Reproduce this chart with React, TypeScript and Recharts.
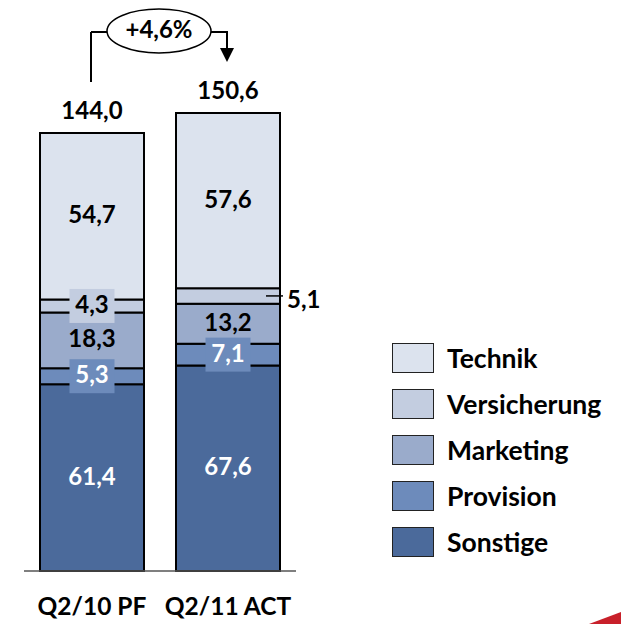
import { BarChart, Bar, XAxis, YAxis, LabelList, Legend } from "recharts";

const categories = ["Q2/10 PF", "Q2/11 ACT"];
const sonstige = [61.4, 67.6];
const provision = [5.3, 7.1];
const marketing = [18.3, 13.2];
const versicherung = [4.3, 5.1];
const technik = [54.7, 57.6];

const FONT = "Lato, 'Open Sans', sans-serif";
const WEIGHT = 700;

// stack order: bottom to top
const series = [
  { key: "sonstige", name: "Sonstige", values: sonstige, fill: "#4b6a9b", text: "#fff", boxed: false },
  { key: "provision", name: "Provision", values: provision, fill: "#6d8bbb", text: "#fff", boxed: true },
  { key: "marketing", name: "Marketing", values: marketing, fill: "#9aabcb", text: "#000", boxed: false },
  { key: "versicherung", name: "Versicherung", values: versicherung, fill: "#c3cde0", text: "#000", boxed: true },
  { key: "technik", name: "Technik", values: technik, fill: "#dce3ee", text: "#000", boxed: false },
];

const data = categories.map((cat, i) => {
  const row: Record<string, any> = { cat };
  series.forEach((s) => (row[s.key] = s.values[i]));
  row.total = series.reduce((sum, s) => sum + s.values[i], 0);
  return row;
});

const fmt = (v: number) => v.toFixed(1).replace(".", ",");
const growth = (data[1].total / data[0].total - 1) * 100;

let firstTopX = 0;

function segmentLabel(s: (typeof series)[number]) {
  return (props: any) => {
    const x = Number(props.x), y = Number(props.y), w = Number(props.width), h = Number(props.height);
    const txt = fmt(Number(props.value));
    const cx = x + w / 2;
    const cy = y + h / 2;
    if (s.key === "versicherung" && props.index === 1) {
      return (
        <g>
          <line x1={cx + 38} x2={x + w + 3} y1={cy} y2={cy} stroke="#000" strokeWidth={1.5} />
          <text x={x + w + 7} y={cy + 6} fontFamily={FONT} fontWeight={WEIGHT} fontSize={24} dominantBaseline="middle" fill="#000">
            {txt}
          </text>
        </g>
      );
    }
    const bw = txt.length * 11 + 12;
    return (
      <g>
        {s.boxed && <rect x={cx - bw / 2} y={cy - 17} width={bw} height={34} fill={s.fill} />}
        <text x={cx} y={cy + 1} textAnchor="middle" dominantBaseline="middle" fontFamily={FONT} fontWeight={WEIGHT} fontSize={24} fill={s.text}>
          {txt}
        </text>
      </g>
    );
  };
}

function topLabel(props: any) {
  const x = Number(props.x), y = Number(props.y), w = Number(props.width);
  const cx = x + w / 2;
  const total = data[props.index].total;
  const bracketY = 32;
  if (props.index === 0) firstTopX = cx;
  const label = (
    <text x={cx} y={y - 14} textAnchor="middle" fontFamily={FONT} fontWeight={WEIGHT} fontSize={24} fill="#000">
      {fmt(total)}
    </text>
  );
  if (props.index === 0) {
    return (
      <g>
        {label}
        <line x1={cx - 1} x2={cx - 1} y1={y - 51} y2={bracketY} stroke="#000" strokeWidth={2} />
      </g>
    );
  }
  const left = firstTopX - 1;
  const right = cx - 1;
  const mid = (left + right) / 2;
  return (
    <g>
      {label}
      <polyline points={`${left},${bracketY} ${right},${bracketY} ${right},${y - 64}`} fill="none" stroke="#000" strokeWidth={2} />
      <polygon points={`${right - 7},${y - 65} ${right + 7},${y - 65} ${right},${y - 51}`} fill="#000" />
      <ellipse cx={mid} cy={31} rx={52} ry={22} fill="#fff" stroke="#000" strokeWidth={1.5} />
      <text x={mid} y={32} textAnchor="middle" dominantBaseline="middle" fontFamily={FONT} fontWeight={WEIGHT} fontSize={24} fill="#000">
        +{fmt(growth)}%
      </text>
    </g>
  );
}

function CategoryTick(props: any) {
  const { x, y, payload } = props;
  return (
    <text x={x} y={y + 36} textAnchor="middle" fontFamily={FONT} fontWeight={WEIGHT} fontSize={24.5} fill="#000">
      {payload.value}
    </text>
  );
}

function LegendBox() {
  return (
    <div style={{ fontFamily: FONT, fontWeight: WEIGHT, fontSize: 26.5 }}>
      {[...series].reverse().map((s) => (
        <div key={s.key} style={{ display: "flex", alignItems: "center", height: 46 }}>
          <div style={{ width: 40, height: 28, background: s.fill, border: "1.5px solid #222", marginRight: 13 }} />
          <span>{s.name}</span>
        </div>
      ))}
    </div>
  );
}

export default function App() {
  return (
    <div style={{ position: "absolute", left: 0, top: 0, width: 621, height: 624, background: "#fff" }}>
      <BarChart width={621} height={624} data={data} margin={{ top: 54, right: 325, bottom: 23, left: 24 }}>
        <XAxis dataKey="cat" height={30} axisLine={{ stroke: "#555", strokeWidth: 1.5 }} tickLine={false} tick={CategoryTick} />
        <YAxis hide domain={[0, 170]} />
        {series.map((s) => (
          <Bar key={s.key} dataKey={s.key} name={s.name} stackId="a" fill={s.fill} stroke="#000" strokeWidth={2} barSize={104} isAnimationActive={false}>
            <LabelList dataKey={s.key} content={segmentLabel(s)} />
            {s.key === "technik" && <LabelList dataKey="total" content={topLabel} />}
          </Bar>
        ))}
        <Legend
          layout="vertical"
          align="center"
          verticalAlign="middle"
          wrapperStyle={{ left: 392, top: 335, width: 229 }}
          content={() => <LegendBox />}
        />
      </BarChart>
      <svg width={621} height={624} style={{ position: "absolute", left: 0, top: 0, pointerEvents: "none" }}>
        <polygon points="589,624 621,612 621,624" fill="#c8202a" />
      </svg>
    </div>
  );
}
